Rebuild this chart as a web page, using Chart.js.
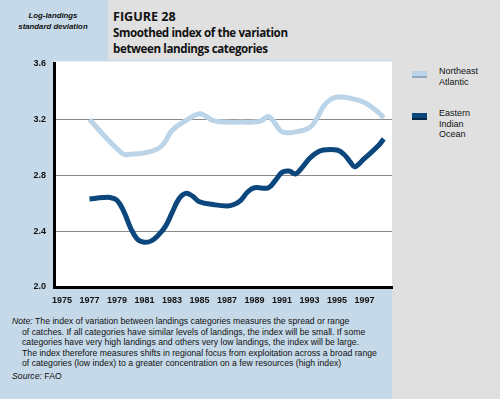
<!DOCTYPE html>
<html>
<head>
<meta charset="utf-8">
<script src="https://cdn.jsdelivr.net/npm/chart.js@4/dist/chart.umd.min.js"></script>
<style>
  html, body { margin: 0; padding: 0; }
  body { width: 500px; height: 399px; position: relative; overflow: hidden; background: #c6d9e8; font-family: "Liberation Sans", Arial, sans-serif; }
  .grayTop { position: absolute; left: 108px; top: 0; width: 284px; height: 60px; background: #e0e0e0; }
  .grayRight { position: absolute; left: 392px; top: 0; width: 108px; height: 399px; background: #e0e0e0; }
  .yTitle { position: absolute; left: 0; top: 10px; width: 106px; text-align: center; font: italic bold 7.8px/11px "Liberation Sans", Arial, sans-serif; color: #111; }
  .title { position: absolute; left: 113px; top: 9px; font-family: "Open Sans", sans-serif; font-weight: 700; color: #111; }
  .title .fig { font-size: 12.6px; line-height: 16px; }
  .title .sub { font-size: 11.6px; line-height: 16px; letter-spacing: -0.4px; }
  #wrap { position: absolute; left: 0; top: 50px; width: 400px; height: 262px; }
  .legend { position: absolute; left: 412px; font: 9px/10.5px "Liberation Sans", Arial, sans-serif; color: #111; }
  .legend .sw { position: absolute; left: 0; width: 15px; height: 5px; }
  .legend .tx { position: absolute; left: 27px; white-space: nowrap; }
  .note { position: absolute; left: 12px; top: 316px; font: 8.7px/10.5px "Liberation Sans", Arial, sans-serif; color: #111; white-space: nowrap; }
  .note .in { padding-left: 10px; }
  .source { position: absolute; left: 12px; top: 371px; font: 8.7px/10.5px "Liberation Sans", Arial, sans-serif; color: #111; }
</style>
</head>
<body>
<div class="grayTop"></div>
<div class="grayRight"></div>
<div class="yTitle">Log-landings<br>standard deviation</div>
<div class="title"><div class="fig">FIGURE 28</div><div class="sub">Smoothed index of the variation<br>between landings categories</div></div>
<div id="wrap"><canvas id="chart" width="400" height="262"></canvas></div>
<div class="legend" id="legend"></div>
<div class="note">
  <div><i>Note:</i> The index of variation between landings categories measures the spread or range</div>
  <div class="in">of catches. If all categories have similar levels of landings, the index will be small. If some</div>
  <div class="in">categories have very high landings and others very low landings, the index will be large.</div>
  <div class="in">The index therefore measures shifts in regional focus from exploitation across a broad range</div>
  <div class="in">of categories (low index) to a greater concentration on a few resources (high index)</div>
</div>
<div class="source"><i>Source:</i> FAO</div>
<script>
// tick labels on the year axis
var yearTicks = [1975, 1977, 1979, 1981, 1983, 1985, 1987, 1989, 1991, 1993, 1995, 1997];

// Northeast Atlantic
var neYears  = [1977, 1978, 1979, 1979.5, 1980, 1981, 1982, 1982.5, 1983, 1984, 1985, 1985.5, 1986, 1987, 1988, 1989, 1989.5, 1990, 1990.5, 1991, 1992, 1993, 1993.5, 1994, 1994.5, 1995, 1996, 1997, 1998, 1998.4];
var neValues = [3.20, 3.09, 2.99, 2.95, 2.95, 2.96, 2.99, 3.04, 3.12, 3.19, 3.24, 3.22, 3.19, 3.18, 3.18, 3.18, 3.19, 3.22, 3.17, 3.11, 3.11, 3.14, 3.20, 3.29, 3.34, 3.36, 3.35, 3.32, 3.25, 3.21];

// Eastern Indian Ocean
var eioYears  = [1977, 1978, 1978.5, 1979, 1979.5, 1980, 1980.5, 1981, 1981.5, 1982, 1982.5, 1983, 1983.5, 1984, 1984.5, 1985, 1986, 1987, 1987.5, 1988, 1988.5, 1989, 1990, 1990.5, 1991, 1991.5, 1992, 1992.5, 1993, 1993.5, 1994, 1995, 1995.5, 1996, 1996.3, 1997, 1998, 1998.4];
var eioValues = [2.63, 2.64, 2.64, 2.62, 2.54, 2.42, 2.34, 2.32, 2.33, 2.37, 2.43, 2.53, 2.63, 2.67, 2.65, 2.61, 2.59, 2.58, 2.59, 2.62, 2.68, 2.71, 2.71, 2.76, 2.82, 2.83, 2.81, 2.86, 2.92, 2.96, 2.98, 2.98, 2.95, 2.89, 2.86, 2.92, 3.01, 3.06];

var series = [
  { name: ['Northeast', 'Atlantic'], years: neYears, values: neValues, color: '#bcd4e7', shade: '#8ea9bf', top: 69 },
  { name: ['Eastern', 'Indian', 'Ocean'], years: eioYears, values: eioValues, color: '#0b477c', shade: '#05284a', top: 111 }
];

// legend on the right, plain html
var legend = document.getElementById('legend');
series.forEach(function (s) {
  var sw = document.createElement('div');
  sw.className = 'sw';
  sw.style.top = (s.top + 2) + 'px';
  sw.style.background = s.color;
  sw.style.borderBottom = '2px solid ' + s.shade;
  legend.appendChild(sw);
  var tx = document.createElement('div');
  tx.className = 'tx';
  tx.style.top = (s.top - 3) + 'px';
  tx.innerHTML = s.name.join('<br>');
  legend.appendChild(tx);
});

// white plot background
var plotBg = {
  id: 'plotBg',
  beforeDraw: function (chart) {
    var a = chart.chartArea, c = chart.ctx;
    c.save();
    c.fillStyle = '#ffffff';
    c.fillRect(a.left, a.top - 2, a.right - a.left, a.bottom - a.top + 2);
    c.restore();
  }
};

var ctx = document.getElementById('chart').getContext('2d');
var myChart = new Chart(ctx, {
  type: 'line',
  data: {
    datasets: series.map(function (s) {
      return {
        label: s.name.join(' '),
        data: s.years.map(function (y, i) { return { x: y, y: s.values[i] }; }),
        borderColor: s.color,
        borderWidth: 5,
        pointRadius: 0,
        tension: 0.4,
        fill: false
      };
    })
  },
  options: {
    responsive: false,
    animation: false,
    layout: { padding: { top: 12, right: 8, left: 0, bottom: 0 } },
    plugins: { legend: { display: false }, tooltip: { enabled: false } },
    scales: {
      x: {
        type: 'linear',
        min: 1974.42,
        max: 1999,
        afterBuildTicks: function (scale) {
          scale.ticks = yearTicks.map(function (v) { return { value: v }; });
        },
        afterFit: function (scale) { scale.height = 25; },
        grid: { color: 'rgba(0,0,0,0)', drawTicks: false },
        border: { color: '#000', width: 3 },
        ticks: {
          padding: 8,
          maxRotation: 0,
          autoSkip: false,
          color: '#111',
          font: { family: 'Liberation Sans', size: 9, weight: 'bold' },
          callback: function (v) { return String(v); }
        }
      },
      y: {
        min: 2.0,
        max: 3.6,
        afterFit: function (scale) { scale.width = 54; },
        grid: {
          drawTicks: false,
          lineWidth: 1,
          color: function (c) {
            var v = c.tick && c.tick.value;
            return (v > 2.01 && v < 3.59) ? '#8a8a8a' : 'rgba(0,0,0,0)';
          }
        },
        border: { color: '#000', width: 3 },
        ticks: {
          stepSize: 0.4,
          padding: 8,
          color: '#111',
          font: { family: 'Liberation Sans', size: 9, weight: 'bold' },
          callback: function (v) { return v.toFixed(1); }
        }
      }
    }
  },
  plugins: [plotBg]
});
</script>
</body>
</html>
